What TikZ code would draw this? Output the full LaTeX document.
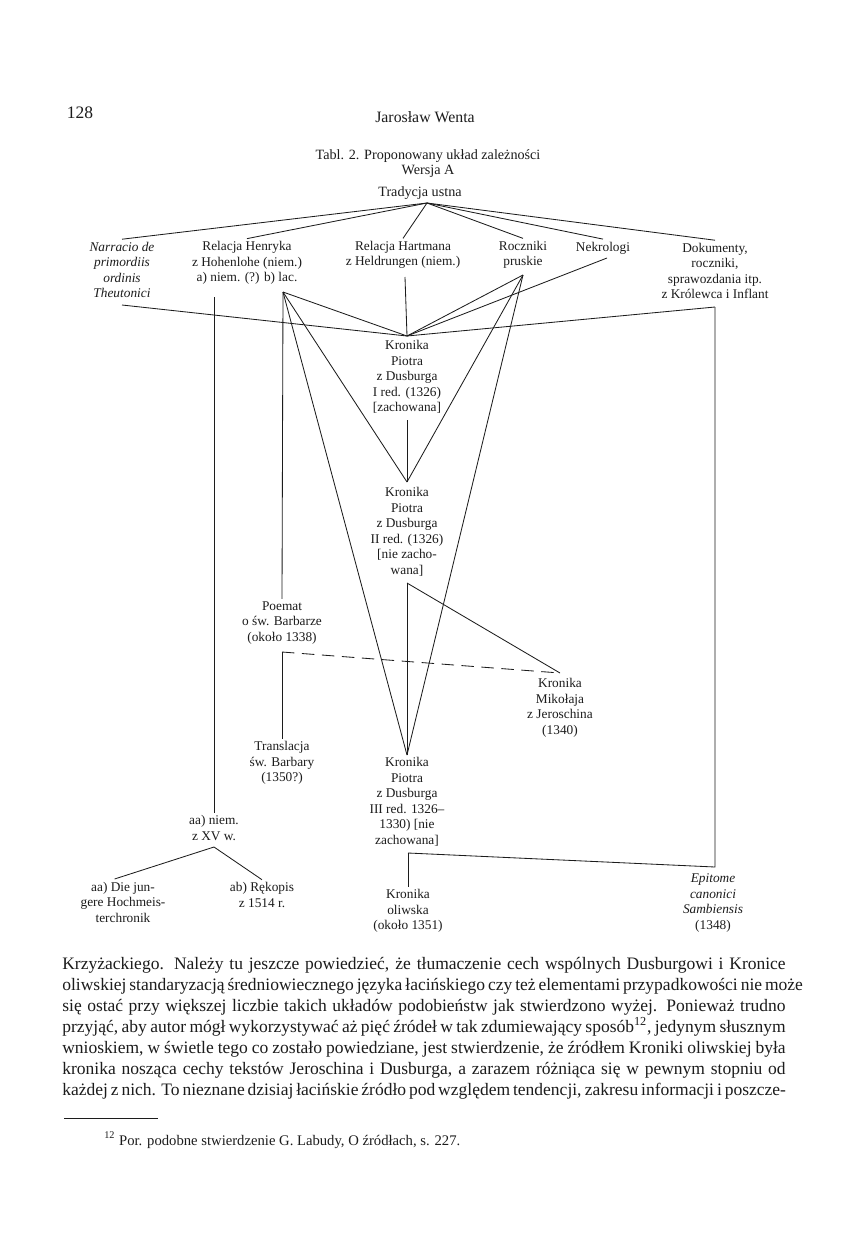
\documentclass[tikz,border=0pt]{standalone}
\usepackage{fontspec}
\setmainfont{Liberation Serif}
\usepackage{tikz}
\usetikzlibrary{positioning,calc}
\definecolor{ink}{RGB}{28,28,28}

\begin{document}
\begin{tikzpicture}[x=0.6pt, y=-0.6pt,
        src/.style={align=center, inner sep=1.5pt, text=ink, font=\fontsize{8}{9.3}\selectfont},
        head/.style={inner sep=0pt, text=ink},
        link/.style={draw=ink, line width=0.5pt},
        hint/.style={link, dash pattern=on 7.5pt off 4.5pt}]

        \useasboundingbox[fill=white] (0,0) rectangle (850,1254);

        % Page head and title
        \node[head, font=\fontsize{10.5}{12}\selectfont] (pno) at (80,113) {128};
        \node[head, font=\fontsize{9.5}{11}\selectfont] (auth) at (425,117) {Jarosław Wenta};
        \node[head, font=\fontsize{8.5}{10}\selectfont] (ttl) at (428,156) {Tabl. 2. Proponowany układ zależności};
        \node[head, font=\fontsize{8.5}{10}\selectfont] (ver) at (428,171) {Wersja A};
        \node[head, font=\fontsize{8.5}{10}\selectfont] (trad) at (420,193) {Tradycja ustna};

        % Sources
        \node[src, font=\fontsize{8}{9.3}\selectfont\itshape] (narr) at (122,270) {Narracio de\\primordiis\\ordinis\\Theutonici};
        \node[src] (henr) at (247,263) {Relacja Henryka\\z Hohenlohe (niem.)\\a) niem. (?) b) lac.};
        \node[src] (hart) at (403,255) {Relacja Hartmana\\z Heldrungen (niem.)};
        \node[src] (rocz) at (523,255) {Roczniki\\pruskie};
        \node[src] (nekr) at (603,248) {Nekrologi};
        \node[src] (dok) at (715,271) {Dokumenty,\\roczniki,\\sprawozdania itp.\\z Królewca i Inflant};

        % Chronicles
        \node[src] (kr1) at (407,377) {Kronika\\Piotra\\z Dusburga\\I red. (1326)\\{}[zachowana]};
        \node[src] (kr2) at (407,532) {Kronika\\Piotra\\z Dusburga\\II red. (1326)\\{}[nie zacho-\\wana]};
        \node[src] (poem) at (282,623) {Poemat\\o św. Barbarze\\(około 1338)};
        \node[src] (jer) at (560,708) {Kronika\\Mikołaja\\z Jeroschina\\(1340)};
        \node[src] (trans) at (282,763) {Translacja\\św. Barbary\\(1350?)};
        \node[src] (kr3) at (407,802) {Kronika\\Piotra\\z Dusburga\\III red. 1326--\\1330) [nie\\zachowana]};
        \node[src] (xv) at (214,828) {aa) niem.\\z XV w.};
        \node[src] (hoch) at (123,902) {aa) Die jun-\\gere Hochmeis-\\terchronik};
        \node[src] (rek) at (262,895) {ab) Rękopis\\z 1514 r.};
        \node[src] (oliw) at (408,911) {Kronika\\oliwska\\(około 1351)};
        \node[src] (epit) at (713,903) {\itshape Epitome\\\itshape canonici\\\itshape Sambiensis\\(1348)};

        % Join points
        \coordinate (hub) at (427,203);
        \coordinate (hlac) at (283,292);
        \coordinate (hniem) at (214,297);
        \coordinate (narrend) at (122,305);
        \coordinate (hartend) at (405,277);
        \coordinate (roczend) at (523,275);
        \coordinate (nekrend) at (607,258);
        \coordinate (dokend) at (715,307);
        \coordinate (kr1in) at (407,336);
        \coordinate (kr1out) at (407,420);
        \coordinate (kr2in) at (407,482);
        \coordinate (kr2out) at (407,583);
        \coordinate (kr3in) at (407,755);
        \coordinate (kr3out) at (408,853);
        \coordinate (poemout) at (282,652);
        \coordinate (jerin) at (560,673);
        \coordinate (xvout) at (214,847);
        \coordinate (epitin) at (715,867);

        % Oral tradition
        \foreach \n in {narr,henr,hart,rocz,nekr,dok}
            \draw[link] (hub) -- (\n.north);

        % Into the first redaction
        \foreach \p in {narrend,hlac,hartend,roczend,nekrend,dokend}
            \draw[link] (\p) -- (kr1in);
        \draw[link] (kr1out) -- (kr2in);
        \draw[link] (hlac) -- (kr2in);
        \draw[link] (roczend) -- (kr2in);

        % Third redaction and Jeroschin
        \draw[link] (kr2out) -- (kr3in);
        \draw[link] (hlac) -- (kr3in);
        \draw[link] (roczend) -- (kr3in);
        \draw[link] (kr2out) -- (jerin);

        % Barbara poem
        \draw[link] (hlac) -- (poem.north);
        \draw[link] (poemout) -- (trans.north);
        \draw[hint] (poemout) -- (jerin);

        % German line
        \draw[link] (hniem) -- (xv.north);
        \draw[link] (xvout) -- (hoch.110);
        \draw[link] (xvout) -- (rek.north);

        % Oliwa and Epitome
        \draw[link] (kr3out) -- (oliw.north);
        \draw[link] (kr3out) -- (epitin) -- (dokend);

        % Running text
        \node[head, anchor=north west, font=\fontsize{10.5}{12.6}\selectfont] (body) at (62,957) {\parbox{434pt}{%
            \makebox[\linewidth][s]{Krzyżackiego. Należy tu jeszcze powiedzieć, że tłumaczenie cech wspólnych Dusburgowi i Kronice}\par
            \makebox[\linewidth][s]{oliwskiej standaryzacją średniowiecznego języka łacińskiego czy też elementami przypadkowości nie może}\par
            \makebox[\linewidth][s]{się ostać przy większej liczbie takich układów podobieństw jak stwierdzono wyżej. Ponieważ trudno}\par
            \makebox[\linewidth][s]{przyjąć, aby autor mógł wykorzystywać aż pięć źródeł w tak zdumiewający sposób\textsuperscript{12}, jedynym słusznym}\par
            \makebox[\linewidth][s]{wnioskiem, w świetle tego co zostało powiedziane, jest stwierdzenie, że źródłem Kroniki oliwskiej była}\par
            \makebox[\linewidth][s]{kronika nosząca cechy tekstów Jeroschina i Dusburga, a zarazem różniąca się w pewnym stopniu od}\par
            \makebox[\linewidth][s]{każdej z nich. To nieznane dzisiaj łacińskie źródło pod względem tendencji, zakresu informacji i poszcze-}}};

        % Footnote
        \coordinate (rulea) at (64,1118);
        \coordinate (ruleb) at (158,1118);
        \draw[link] (rulea) -- (ruleb);
        \node[head, anchor=west, font=\fontsize{8.8}{11}\selectfont] (fn) at (104,1140) {\textsuperscript{12} Por. podobne stwierdzenie G. Labudy, O źródłach, s. 227.};

    \end{tikzpicture}
\end{document}
